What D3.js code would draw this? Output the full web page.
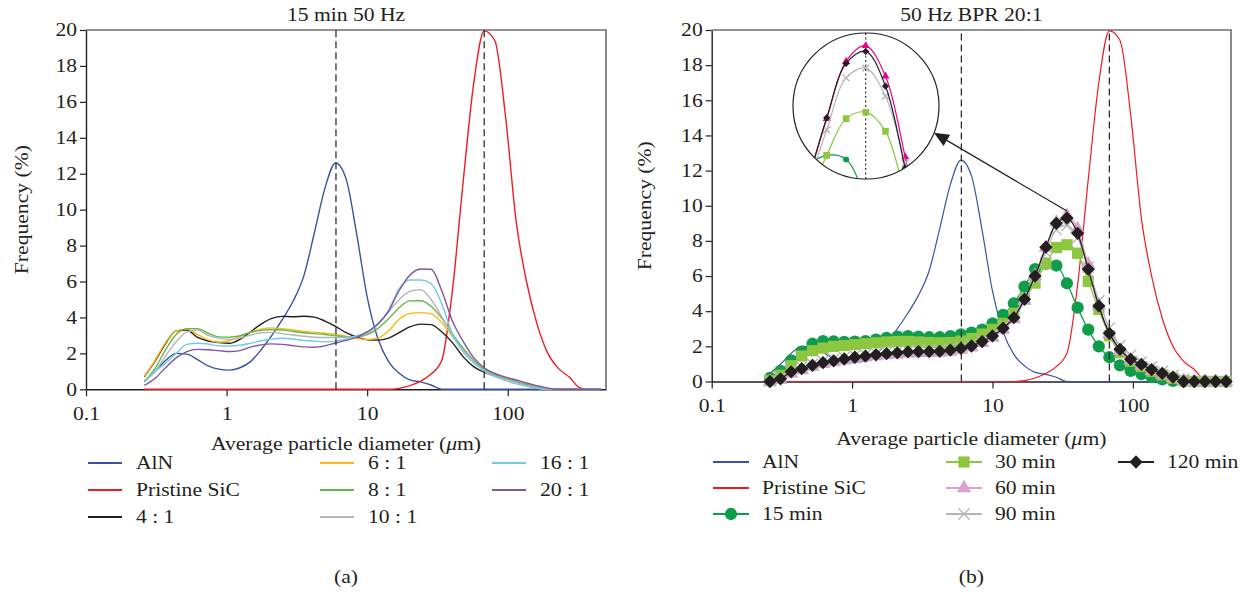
<!DOCTYPE html>
<html>
<head>
<meta charset="utf-8">
<script src="https://cdn.jsdelivr.net/npm/d3@7"></script>
<style>
  body { margin: 0; background: #fff; }
  svg text { font-family: "Liberation Serif", "Times New Roman", serif; font-size: 18px; fill: #231f20; }
</style>
</head>
<body>
<svg id="chart" width="1244" height="595"></svg>
<script>
// particle size classes (um), shared by every series
var sizes = [0.26, 0.309, 0.368, 0.438, 0.522, 0.621, 0.739, 0.879, 1.046, 1.245,
  1.48, 1.76, 2.10, 2.50, 2.97, 3.54, 4.21, 5.01, 5.96, 7.09,
  8.44, 10.0, 11.9, 14.2, 16.9, 20.1, 24.0, 28.5, 33.9, 40.4,
  48.1, 57.2, 68.0, 81.0, 96.4, 115, 136, 162, 193, 230,
  274, 326, 388, 461];

var aln = [0.45, 0.98, 1.6, 2.0, 1.96, 1.65, 1.3, 1.12, 1.07, 1.2,
  1.54, 2.2, 3.0, 3.9, 4.9, 6.3, 8.7, 11.2, 12.6, 11.7,
  8.6, 5.15, 2.84, 1.54, 0.89, 0.52, 0.41, 0.24, 0, 0,
  0, 0, 0, 0, 0, 0, 0, 0, 0, 0, 0, 0, 0, 0];
var sic = [0, 0, 0, 0, 0, 0, 0, 0, 0, 0,
  0, 0, 0, 0, 0, 0, 0, 0, 0, 0,
  0, 0, 0, 0, 0.05, 0.2, 0.45, 0.85, 1.6, 5.5,
  11.5, 17.0, 19.95, 19.4, 15.2, 9.3, 6.0, 3.6, 2.0, 1.15,
  0.68, 0.08, 0, 0];

// (a) ball to powder ratios, 15 min 50 Hz
var r4 = [0.7, 1.55, 2.55, 3.25, 3.3, 2.89, 2.69, 2.6, 2.56, 2.78,
  3.2, 3.63, 3.95, 4.06, 4.04, 4.07, 4.02, 3.8, 3.5, 3.15,
  2.9, 2.76, 2.74, 2.85, 3.15, 3.47, 3.63, 3.6, 3.2, 2.6,
  1.82, 1.26, 0.95, 0.75, 0.6, 0.42, 0.27, 0.13, 0.03, 0, 0, 0, 0, 0];
var r6 = [0.72, 1.6, 2.6, 3.25, 3.35, 3.05, 2.75, 2.62, 2.7, 2.95,
  3.18, 3.35, 3.42, 3.38, 3.3, 3.22, 3.18, 3.12, 3.05, 2.95,
  2.84, 2.77, 2.85, 3.25, 3.9, 4.22, 4.27, 4.2, 3.72, 2.95,
  2.28, 1.6, 1.12, 0.85, 0.65, 0.47, 0.3, 0.15, 0.04, 0, 0, 0, 0, 0];
var r8 = [0.45, 1.15, 2.2, 3.05, 3.38, 3.38, 3.12, 2.92, 2.9, 2.98,
  3.17, 3.28, 3.33, 3.3, 3.22, 3.15, 3.1, 3.05, 2.98, 2.93,
  2.93, 3.05, 3.38, 3.93, 4.54, 4.92, 4.93, 4.62, 3.96, 3.08,
  2.28, 1.62, 1.12, 0.8, 0.58, 0.4, 0.24, 0.1, 0.02, 0, 0, 0, 0, 0];
var r10 = [0.4, 1.0, 1.85, 2.65, 3.2, 3.3, 3.0, 2.85, 2.78, 2.85,
  3.02, 3.15, 3.17, 3.1, 3.02, 2.95, 2.9, 2.88, 2.88, 2.9,
  2.95, 3.1, 3.6, 4.3, 5.0, 5.45, 5.55, 5.0, 4.05, 2.97,
  2.18, 1.55, 1.0, 0.7, 0.48, 0.3, 0.16, 0.05, 0, 0, 0, 0, 0, 0];
var r16 = [0.42, 1.0, 1.45, 2.0, 2.5, 2.56, 2.52, 2.42, 2.41, 2.45,
  2.56, 2.7, 2.8, 2.84, 2.8, 2.72, 2.68, 2.65, 2.68, 2.8,
  2.98, 3.2, 3.65, 4.4, 5.6, 6.08, 6.08, 5.88, 4.77, 3.1,
  2.1, 1.46, 1.06, 0.75, 0.55, 0.38, 0.22, 0.08, 0.01, 0, 0, 0, 0, 0];
var r20 = [0.22, 0.6, 1.2, 1.75, 2.1, 2.22, 2.2, 2.15, 2.1, 2.15,
  2.35, 2.47, 2.53, 2.5, 2.43, 2.36, 2.34, 2.42, 2.58, 2.72,
  2.9, 3.2, 3.62, 4.35, 5.5, 6.35, 6.7, 6.68, 5.5, 3.8,
  2.68, 1.76, 1.2, 0.88, 0.68, 0.52, 0.35, 0.2, 0.06, 0, 0, 0, 0, 0];

// (b) milling times, 50 Hz BPR 20:1
var m15 = [0.2, 0.6, 1.2, 1.7, 2.15, 2.3, 2.28, 2.25, 2.27, 2.3,
  2.38, 2.48, 2.55, 2.58, 2.55, 2.52, 2.52, 2.58, 2.68, 2.78,
  2.95, 3.3, 3.79, 4.45, 5.4, 6.4, 6.7, 6.6, 5.59, 4.2,
  2.95, 2.0, 1.38, 0.92, 0.6, 0.42, 0.25, 0.12, 0.03, 0, 0, 0, 0, 0];
var m30 = [0.05, 0.35, 0.9, 1.45, 1.75, 1.9, 2.0, 2.05, 2.1, 2.15,
  2.2, 2.25, 2.28, 2.28, 2.25, 2.22, 2.2, 2.22, 2.3, 2.45,
  2.7, 2.97, 3.31, 3.88, 4.7, 5.6, 6.7, 7.62, 7.78, 7.3,
  5.7, 4.1, 2.6, 1.65, 1.15, 0.85, 0.57, 0.37, 0.18, 0.05, 0, 0, 0, 0];
var m60 = [0, 0.1, 0.45, 0.65, 0.85, 1.0, 1.1, 1.2, 1.3, 1.37,
  1.45, 1.5, 1.55, 1.6, 1.62, 1.63, 1.65, 1.7, 1.8, 1.95,
  2.2, 2.5, 2.95, 3.55, 4.6, 6.0, 7.62, 9.05, 9.44, 8.68,
  6.66, 4.35, 2.7, 1.75, 1.2, 0.9, 0.6, 0.4, 0.2, 0.05, 0, 0, 0, 0];
var m90 = [0.02, 0.2, 0.62, 0.82, 1.0, 1.15, 1.27, 1.37, 1.46, 1.53,
  1.6, 1.66, 1.71, 1.75, 1.78, 1.79, 1.8, 1.86, 1.96, 2.1,
  2.35, 2.68, 3.12, 3.72, 4.7, 5.9, 7.34, 8.64, 8.88, 8.18,
  6.5, 4.6, 3.05, 2.05, 1.5, 1.12, 0.82, 0.58, 0.36, 0.13, 0, 0, 0, 0];
var m120 = [0, 0.15, 0.55, 0.73, 0.92, 1.07, 1.18, 1.28, 1.38, 1.45,
  1.52, 1.58, 1.63, 1.68, 1.7, 1.7, 1.72, 1.78, 1.88, 2.02,
  2.27, 2.59, 3.03, 3.63, 4.68, 6.0, 7.64, 9.0, 9.3, 8.43,
  6.38, 4.3, 2.74, 1.83, 1.26, 0.97, 0.67, 0.46, 0.25, 0, 0, 0, 0, 0];

var yTicks = [0, 2, 4, 6, 8, 10, 12, 14, 16, 18, 20];
var xTicks = [0.1, 1, 10, 100];
var refLines = [6.0, 68];
var peakIndex = 28;   // size class shown magnified in the inset

var svg = d3.select("#chart");
var INK = "#231f20";

var boxA = {left: 86, right: 606, top: 30, bottom: 389.3};
var boxB = {left: 711.7, right: 1231, top: 30, bottom: 381.5};

function scalesFor(box) {
  return {
    x: d3.scaleLog().domain([0.1, 500]).range([box.left, box.right]),
    y: d3.scaleLinear().domain([0, 20]).range([box.bottom, box.top])
  };
}
var sA = scalesFor(boxA), sB = scalesFor(boxB);

function frame(box, s, title, ylabX, xlabY) {
  var g = svg.append("g");
  var gx = g.append("g")
    .attr("transform", "translate(0," + box.bottom + ")")
    .call(d3.axisBottom(s.x).tickValues(xTicks).tickFormat(function(d) { return String(d); })
      .tickSize(7).tickPadding(11).tickSizeOuter(0));
  var gy = g.append("g")
    .attr("transform", "translate(" + box.left + ",0)")
    .call(d3.axisLeft(s.y).tickValues(yTicks).tickSize(6).tickPadding(3).tickSizeOuter(0));
  [gx, gy].forEach(function(a) {
    a.selectAll(".domain").attr("stroke", INK).attr("stroke-width", 1.4);
    a.selectAll(".tick line").attr("stroke", INK).attr("stroke-width", 1.2);
  });
  g.append("path")
    .attr("d", "M" + box.left + "," + box.top + "H" + box.right + "V" + box.bottom)
    .attr("fill", "none").attr("stroke", "#6d6e71").attr("stroke-width", 1.6);

  var cx = (box.left + box.right) / 2;
  g.append("text").attr("x", cx).attr("y", 21).attr("text-anchor", "middle").text(title);
  var xl = g.append("text").attr("x", cx).attr("y", xlabY).attr("text-anchor", "middle");
  xl.append("tspan").text("Average particle diameter (");
  xl.append("tspan").attr("font-style", "italic").text("\u03bc");
  xl.append("tspan").text("m)");
  var cy = (box.top + box.bottom) / 2;
  g.append("text").attr("transform", "translate(" + ylabX + "," + cy + ") rotate(-90)")
    .attr("text-anchor", "middle").text("Frequency (%)");
}

function curve(s, values, color, width) {
  var line = d3.line()
    .x(function(d, i) { return s.x(sizes[i]); })
    .y(function(d) { return s.y(d); })
    .curve(d3.curveMonotoneX);
  return svg.append("path").datum(values)
    .attr("d", line).attr("fill", "none")
    .attr("stroke", color).attr("stroke-width", width || 1.4);
}

function refs(box, s) {
  refLines.forEach(function(v) {
    svg.append("line")
      .attr("x1", s.x(v)).attr("x2", s.x(v))
      .attr("y1", box.bottom).attr("y2", box.top)
      .attr("stroke", INK).attr("stroke-width", 1.2)
      .attr("stroke-dasharray", "7,4");
  });
}

// ---------- panel (a)
frame(boxA, sA, "15 min 50 Hz", 28, 450);
var seriesA = [
  {name: "AlN", v: aln, color: "#3953a4"},
  {name: "Pristine SiC", v: sic, color: "#ed1c24"},
  {name: "4 : 1", v: r4, color: "#231f20"},
  {name: "6 : 1", v: r6, color: "#fdb913"},
  {name: "8 : 1", v: r8, color: "#62b849"},
  {name: "10 : 1", v: r10, color: "#b4b5b7"},
  {name: "16 : 1", v: r16, color: "#72cbe8"},
  {name: "20 : 1", v: r20, color: "#7f56a3"}
];
seriesA.forEach(function(d) { curve(sA, d.v, d.color); });
refs(boxA, sA);

// ---------- panel (b)
frame(boxB, sB, "50 Hz BPR 20:1", 651, 445);

function symbolPath(shape, size) {
  var t = {circle: d3.symbolCircle, square: d3.symbolSquare, triangle: d3.symbolTriangle,
           x: d3.symbolX, diamond: d3.symbolSquare}[shape];
  return d3.symbol(t, size)();
}

var seriesB = [
  {name: "15 min", v: m15, color: "#0f9d4c", shape: "circle", size: 118, inset: "#0f9d4c", isz: 28},
  {name: "30 min", v: m30, color: "#8dc63f", shape: "square", size: 125, inset: "#8dc63f", isz: 44},
  {name: "60 min", v: m60, color: "#dba1cf", shape: "triangle", size: 90, inset: "#ec008c", isz: 28},
  {name: "90 min", v: m90, color: "#b5b6b8", shape: "x", size: 80, inset: "#b5b6b8", isz: 32},
  {name: "120 min", v: m120, color: "#231f20", shape: "diamond", size: 88, inset: "#231f20", isz: 26}
];

function marks(g, xs, ys, d, color, size) {
  var p = symbolPath(d.shape, size);
  g.selectAll(null).data(d.v).enter().append("path")
    .attr("d", p)
    .attr("transform", function(v, i) {
      return "translate(" + xs(sizes[i]) + "," + ys(v) + ")" + (d.shape === "diamond" ? " rotate(45)" : "");
    })
    .attr("fill", d.shape === "x" ? "none" : color)
    .attr("stroke", d.shape === "x" ? color : "none")
    .attr("stroke-width", 1.4);
}

curve(sB, aln, "#3953a4", 1.2);
curve(sB, sic, "#ed1c24", 1.2);
var gB = svg.append("g");
seriesB.forEach(function(d) {
  gB.append("path").datum(d.v)
    .attr("d", d3.line().x(function(v, i) { return sB.x(sizes[i]); }).y(function(v) { return sB.y(v); }).curve(d3.curveMonotoneX))
    .attr("fill", "none").attr("stroke", d.color).attr("stroke-width", 1.3);
  marks(gB, sB.x, sB.y, d, d.color, d.size);
});
refs(boxB, sB);

// ---------- magnified inset around the peak
var ins = {cx: 866, cy: 106, r: 73};
var ix = d3.scaleLog().domain([17.8, 64.9]).range([ins.cx - ins.r, ins.cx + ins.r]);
var iy = d3.scaleLinear().domain([6.11, 9.76]).range([ins.cy + ins.r, ins.cy - ins.r]);

svg.append("clipPath").attr("id", "insetClip")
  .append("circle").attr("cx", ins.cx).attr("cy", ins.cy).attr("r", ins.r);
svg.append("circle").attr("cx", ins.cx).attr("cy", ins.cy).attr("r", ins.r).attr("fill", "#fff");
var gi = svg.append("g").attr("clip-path", "url(#insetClip)");
gi.append("line")
  .attr("x1", ix(sizes[peakIndex])).attr("x2", ix(sizes[peakIndex]))
  .attr("y1", ins.cy - ins.r).attr("y2", ins.cy + ins.r)
  .attr("stroke", INK).attr("stroke-width", 1.1).attr("stroke-dasharray", "2,2.5");
seriesB.forEach(function(d) {
  gi.append("path").datum(d.v)
    .attr("d", d3.line().x(function(v, i) { return ix(sizes[i]); }).y(function(v) { return iy(v); }).curve(d3.curveCatmullRom))
    .attr("fill", "none").attr("stroke", d.inset).attr("stroke-width", 1.2);
  marks(gi, ix, iy, d, d.inset, d.isz);
});
svg.append("circle").attr("cx", ins.cx).attr("cy", ins.cy).attr("r", ins.r)
  .attr("fill", "none").attr("stroke", INK).attr("stroke-width", 1.2);

// arrow from the 120 min peak to the inset
(function() {
  var a = 21.5 * Math.PI / 180;
  var ex = ins.cx + ins.r * Math.cos(a), ey = ins.cy + ins.r * Math.sin(a);
  var sx = sB.x(sizes[peakIndex]), sy = sB.y(m120[peakIndex]) - 7;
  var dx = sx - ex, dy = sy - ey, len = Math.sqrt(dx * dx + dy * dy);
  var ux = dx / len, uy = dy / len, hl = 15, hw = 6.5;
  var bx = ex + ux * hl, by = ey + uy * hl;
  svg.append("line").attr("x1", sx).attr("y1", sy).attr("x2", bx).attr("y2", by)
    .attr("stroke", INK).attr("stroke-width", 1.2);
  svg.append("path")
    .attr("d", "M" + ex + "," + ey + "L" + (bx - uy * hw) + "," + (by + ux * hw) + "L" + (bx + uy * hw) + "," + (by - ux * hw) + "Z")
    .attr("fill", INK);
})();

// ---------- legends
function legend(items, cols, rows, lineLen, gap) {
  items.forEach(function(d, k) {
    var c = cols[d.col], y = rows[d.row];
    svg.append("line").attr("x1", c).attr("x2", c + lineLen).attr("y1", y).attr("y2", y)
      .attr("stroke", d.color).attr("stroke-width", 2);
    if (d.shape) {
      var p = symbolPath(d.shape, d.size);
      svg.append("path").attr("d", p)
        .attr("transform", "translate(" + (c + lineLen / 2) + "," + y + ")" + (d.shape === "diamond" ? " rotate(45)" : ""))
        .attr("fill", d.shape === "x" ? "none" : d.color)
        .attr("stroke", d.shape === "x" ? d.color : "none").attr("stroke-width", 1.4);
    }
    svg.append("text").attr("x", c + lineLen + gap).attr("y", y + 6).text(d.name);
  });
}

legend(seriesA.map(function(d, k) {
  return {name: d.name, color: d.color, col: Math.floor(k / 3), row: k % 3};
}), [88, 320, 492], [463, 490, 517], 34, 14);

var legB = [
  {name: "AlN", color: "#3953a4"},
  {name: "Pristine SiC", color: "#ed1c24"}
].concat(seriesB);
legend(legB.map(function(d, k) {
  return {name: d.name, color: d.color, shape: d.shape, size: d.size, col: Math.floor(k / 3), row: k % 3};
}), [713, 946, 1118], [462, 488, 514], 36, 13);

svg.append("text").attr("x", (boxA.left + boxA.right) / 2).attr("y", 583).attr("text-anchor", "middle").text("(a)");
svg.append("text").attr("x", (boxB.left + boxB.right) / 2).attr("y", 583).attr("text-anchor", "middle").text("(b)");

// the source lettering is set wider than Times; stretch every label alike
svg.selectAll("text").each(function() {
  var w = this.getComputedTextLength();
  if (w > 0) d3.select(this).attr("textLength", (w * 1.2).toFixed(1)).attr("lengthAdjust", "spacingAndGlyphs");
});
</script>
</body>
</html>
